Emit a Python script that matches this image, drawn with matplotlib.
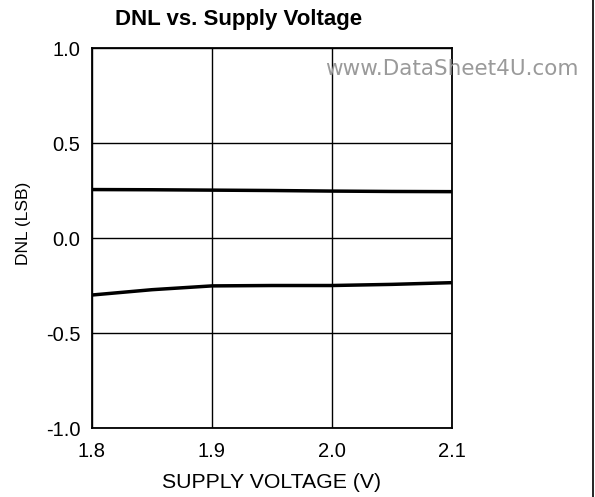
import matplotlib.pyplot as plt
from matplotlib.lines import Line2D

plt.rcParams['font.family'] = ['Liberation Sans', 'DejaVu Sans']

# supply voltage (V) and DNL (LSB) for max / min curves
voltage = [1.8, 1.85, 1.9, 1.95, 2.0, 2.05, 2.1]
dnl_max = [0.255, 0.254, 0.252, 0.250, 0.247, 0.245, 0.244]
dnl_min = [-0.30, -0.272, -0.252, -0.250, -0.250, -0.244, -0.235]

x_ticks = [1.8, 1.9, 2.0, 2.1]
y_ticks = [-1.0, -0.5, 0.0, 0.5, 1.0]

fig = plt.figure(figsize=(5.95, 4.97), dpi=100)
ax = fig.add_axes([0.1546, 0.1388, 0.605, 0.7646])

ax.plot(voltage, dnl_max, color='black', lw=2.5, solid_capstyle='butt')
ax.plot(voltage, dnl_min, color='black', lw=2.5, solid_capstyle='butt')

ax.set_xlim(1.8, 2.1)
ax.set_ylim(-1.0, 1.0)
ax.set_xticks(x_ticks)
ax.set_yticks(y_ticks)
ax.set_xticklabels([f'{v:.1f}' for v in x_ticks])
ax.set_yticklabels([f'{v:.1f}' for v in y_ticks])
ax.tick_params(length=0, labelsize=14.5)
ax.tick_params(axis='x', pad=10)
ax.tick_params(axis='y', pad=8.5)
ax.grid(True, color='black', lw=1.0)
for spine in ax.spines.values():
    spine.set_linewidth(1.3)

# axis titles placed like the datasheet
fig.text(272 / 595, 1 - 482 / 497, 'SUPPLY VOLTAGE (V)', ha='center', va='center',
         fontsize=15.3)
fig.text(24 / 595, 1 - 223 / 497, 'DNL (LSB)', ha='center', va='center',
         rotation=90, fontsize=12.5)

fig.text(239 / 595, 1 - 19 / 497, 'DNL vs. Supply Voltage', ha='center', va='center',
         fontsize=16, fontweight='bold')
fig.text(325 / 595, 1 - 69 / 497, 'www.DataSheet4U.com', ha='left', va='center',
         fontsize=15.5, color='#9a9a9a', family='DejaVu Sans')

# page border on the right
fig.add_artist(Line2D([0.9966, 0.9966], [0, 1], transform=fig.transFigure,
                      color='black', lw=1.2))

fig.savefig('out.png', dpi=100)
